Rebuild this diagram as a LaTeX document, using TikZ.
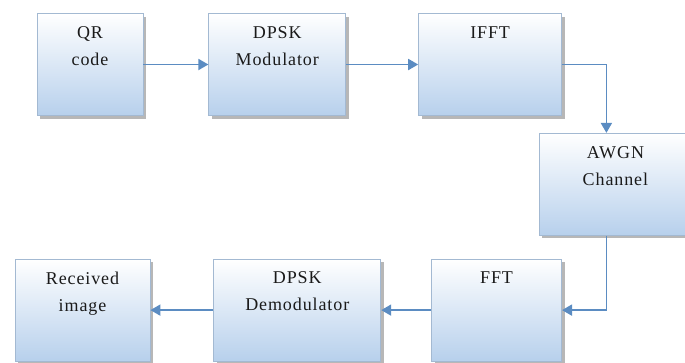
\documentclass[tikz,border=0pt]{standalone}
\usepackage{fontspec}
\setmainfont{Liberation Serif}
\usetikzlibrary{shapes,arrows.meta,positioning,shadows}
\definecolor{boxblue}{HTML}{B7D0EC}
\definecolor{boxline}{HTML}{A3B9D2}
\definecolor{flowblue}{HTML}{5B8CC2}
\definecolor{inktext}{HTML}{1A1A1A}
\tikzset{
        block/.style = {draw=boxline, line width=0.8pt, rectangle, top color=white, bottom color=boxblue,
                        drop shadow={shadow xshift=3pt, shadow yshift=-3pt, fill=black!40, opacity=0.7},
                        minimum height=102pt},
        blocktext/.style = {anchor=north, yshift=-13pt, align=center, inner sep=0pt, text=inktext,
                            font=\fontsize{18}{27}\selectfont\addfontfeature{LetterSpace=5}},
        flow/.style = {->, draw=flowblue, line width=1.8pt},
    }

\begin{document}
\begin{tikzpicture}[auto, node distance=65pt, >={Triangle[length=10pt,width=11pt]}]
    \useasboundingbox (0,0) rectangle (685pt,-362pt);
    \node [block, minimum width=106pt, label={[blocktext]north:QR\\code}] (qrcode) at (90pt,-64.5pt) {};
    \node [block, minimum width=137pt, label={[blocktext]north:DPSK\\Modulator}, right=65pt of qrcode] (modulator) {};
    \node [block, minimum width=143pt, label={[blocktext]north:IFFT}, right=72pt of modulator] (ifft) {};
    \node [block, minimum width=152pt, label={[blocktext]north:AWGN\\Channel}, below right=17pt and -23pt of ifft] (awgn) {};
    \node [block, minimum width=130pt, label={[blocktext]north:FFT}, below left=23pt and -23pt of awgn] (fft) {};
    \node [block, minimum width=167pt, label={[blocktext]north:DPSK\\Demodulator}, left=50pt of fft] (demodulator) {};
    \node [block, minimum width=135pt, label={[blocktext]north:Received\\image}, left=63pt of demodulator] (received) {};

    \draw [flow] (qrcode) -- (modulator);
    \draw [flow] (modulator) -- (ifft);
    \draw [flow] (ifft.east) -| ([xshift=-9pt]awgn.north);
    \draw [flow] ([xshift=-9pt]awgn.south) |- (fft.east);
    \draw [flow] (fft) -- (demodulator);
    \draw [flow] (demodulator) -- (received);

\end{tikzpicture}
\end{document}
